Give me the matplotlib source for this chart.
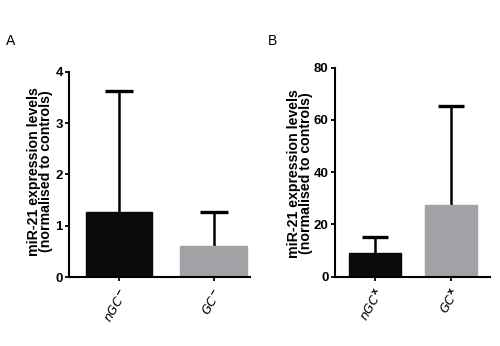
import matplotlib
matplotlib.use("Agg")
import matplotlib.pyplot as plt
from matplotlib import font_manager

names = {f.name for f in font_manager.fontManager.ttflist}
narrow = 'Liberation Sans Narrow' if 'Liberation Sans Narrow' in names else 'Liberation Sans'
plt.rcParams['font.family'] = ['Liberation Sans', 'DejaVu Sans']

cats_a = [r'$\mathbf{\mathit{nGC}^{-}}$', r'$\mathbf{\mathit{GC}^{-}}$']
vals_a = [1.26, 0.60]
err_a = [2.37, 0.67]
cats_b = [r'$\mathbf{\mathit{nGC}^{x}}$', r'$\mathbf{\mathit{GC}^{x}}$']
vals_b = [9.0, 27.5]
err_b = [6.2, 38.0]
colors = ['#0a0a0a', '#a2a2a6']
ylabel = 'miR-21 expression levels\n(normalised to controls)'

fig = plt.figure(figsize=(5.0, 3.46), dpi=100)

def panel(rect, cats, vals, errs, ylim, yticks, xlim, width, caphalf, letter, lpos, labx, laby):
    ax = fig.add_axes(rect)
    x = list(range(len(cats)))
    ax.bar(x, vals, width=width, color=colors, edgecolor=colors, linewidth=1.0, zorder=2)
    tops = [v + e for v, e in zip(vals, errs)]
    ax.vlines(x, vals, tops, colors='black', linewidth=1.8, zorder=1)
    ax.hlines(tops, [xi - caphalf for xi in x], [xi + caphalf for xi in x],
              colors='black', linewidth=2.4, zorder=1)
    ax.set_ylim(*ylim)
    ax.set_xlim(*xlim)
    ax.set_yticks(yticks)
    ax.set_yticklabels([str(t) for t in yticks], fontweight='bold', fontsize=9.5, family=narrow)
    ax.set_xticks(x)
    ax.set_xticklabels(cats, rotation=60, ha='right', fontsize=9, rotation_mode='anchor')
    for s in ['top', 'right']:
        ax.spines[s].set_visible(False)
    for s in ['left', 'bottom']:
        ax.spines[s].set_linewidth(1.5)
    ax.tick_params(axis='both', length=3, width=1.3, pad=1.5)
    ax.tick_params(axis='x', pad=4)
    ax.set_ylabel(ylabel, fontweight='bold', fontsize=10.2, linespacing=0.82)
    ax.yaxis.set_label_coords(labx, laby)
    fig.text(lpos[0], lpos[1], letter, fontsize=10, ha='left', va='center')
    return ax

panel([0.138, 0.1994, 0.362, 0.593], cats_a, vals_a, err_a, (0, 4), [0, 1, 2, 3, 4],
      (-0.529, 1.386), 0.70, 0.148, 'A', (0.012, 0.882), -0.088, 0.515)
panel([0.67, 0.2003, 0.31, 0.604], cats_b, vals_b, err_b, (0, 80), [0, 20, 40, 60, 80],
      (-0.526, 1.513), 0.68, 0.167, 'B', (0.536, 0.882), -0.14, 0.494)

fig.savefig('out.png', dpi=100)
